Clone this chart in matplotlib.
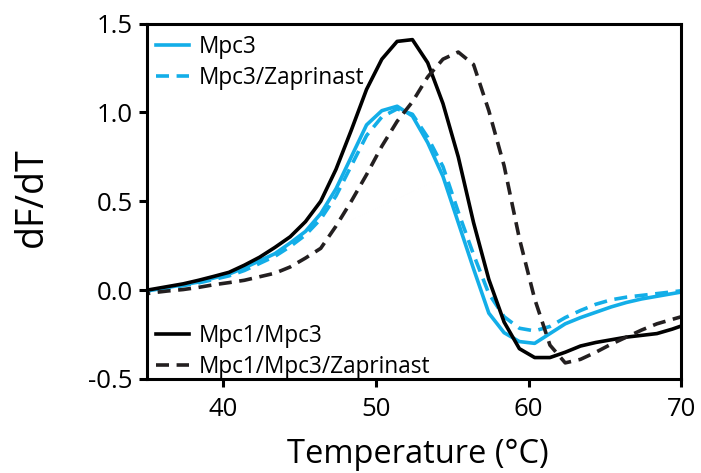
import matplotlib
matplotlib.use("Agg")
import matplotlib.pyplot as plt
import numpy as np

plt.rcParams['font.family'] = ['Open Sans', 'DejaVu Sans']

# Temperature grid (deg C)
temp = np.arange(34.4, 70.5, 1.0)

# dF/dT traces
mpc3 = [-0.01, 0.0, 0.015, 0.03, 0.045, 0.068, 0.09, 0.125, 0.165, 0.205,
        0.265, 0.33, 0.43, 0.57, 0.75, 0.93, 1.01, 1.035, 0.98, 0.83,
        0.64, 0.38, 0.12, -0.13, -0.24, -0.29, -0.30, -0.245, -0.19, -0.155,
        -0.125, -0.095, -0.07, -0.05, -0.035, -0.02, -0.005]
mpc3_zap = [-0.015, -0.005, 0.01, 0.025, 0.04, 0.06, 0.08, 0.11, 0.15, 0.19,
            0.245, 0.31, 0.40, 0.53, 0.70, 0.87, 0.975, 1.02, 0.99, 0.86,
            0.695, 0.44, 0.20, -0.02, -0.15, -0.215, -0.23, -0.205, -0.155, -0.115,
            -0.08, -0.055, -0.04, -0.03, -0.02, -0.01, 0.0]
mpc13 = [-0.01, 0.005, 0.02, 0.035, 0.055, 0.077, 0.10, 0.14, 0.185, 0.24,
         0.30, 0.385, 0.50, 0.68, 0.90, 1.13, 1.30, 1.40, 1.41, 1.28,
         1.05, 0.75, 0.38, 0.06, -0.18, -0.33, -0.38, -0.38, -0.35, -0.315,
         -0.295, -0.28, -0.265, -0.255, -0.245, -0.22, -0.19]
mpc13_zap = [-0.03, -0.015, -0.005, 0.003, 0.015, 0.03, 0.042, 0.055, 0.075, 0.095,
             0.13, 0.18, 0.235, 0.36, 0.50, 0.65, 0.81, 0.95, 1.06, 1.20,
             1.30, 1.34, 1.27, 1.01, 0.70, 0.29, -0.05, -0.31, -0.41, -0.39,
             -0.35, -0.305, -0.265, -0.225, -0.19, -0.165, -0.14]

xticks = [40, 50, 60, 70]
yticks = [-0.5, 0.0, 0.5, 1.0, 1.5]

blue = '#13aee8'
lw = 2.6
dash = (3.6, 2.1)

fig = plt.figure(figsize=(7.01, 4.73), dpi=100)
ax = fig.add_axes([0.209, 0.199, 0.763, 0.751])

l1, = ax.plot(temp, mpc3, color=blue, lw=lw, label='Mpc3')
l2, = ax.plot(temp, mpc3_zap, color=blue, lw=lw, dashes=dash, label='Mpc3/Zaprinast')
l3, = ax.plot(temp, mpc13, color='black', lw=lw, label='Mpc1/Mpc3')
l4, = ax.plot(temp, mpc13_zap, color='#231f20', lw=lw, dashes=dash, label='Mpc1/Mpc3/Zaprinast')

ax.set_xlim(35, 70)
ax.set_ylim(-0.5, 1.5)
ax.set_xticks(xticks)
ax.set_yticks(yticks)
ax.set_yticklabels([f'{v:.1f}' for v in yticks])

for s in ax.spines.values():
    s.set_linewidth(2.2)
ax.tick_params(width=2.2, length=6, labelsize=18.5)
ax.tick_params(axis='x', pad=7)
ax.tick_params(axis='y', pad=4)

ax.set_xlabel('Temperature (\u00b0C)', fontsize=23.5, va='baseline')
ax.xaxis.set_label_coords(0.508, -0.2375)
ax.set_ylabel('dF/dT', fontsize=27, va='baseline')
ax.yaxis.set_label_coords(-0.196, 0.5115)

leg1 = ax.legend(handles=[l1, l2], loc='upper left', bbox_to_anchor=(0.018, 0.969),
                 frameon=False, fontsize=16.3, borderpad=0, borderaxespad=0,
                 handlelength=1.45, handletextpad=0.45, labelspacing=0.33)
ax.add_artist(leg1)
ax.legend(handles=[l3, l4], loc='lower left', bbox_to_anchor=(0.018, 0.0),
          frameon=False, fontsize=16.3, borderpad=0, borderaxespad=0,
          handlelength=1.45, handletextpad=0.45, labelspacing=0.32)

fig.savefig('out.png', dpi=100)
